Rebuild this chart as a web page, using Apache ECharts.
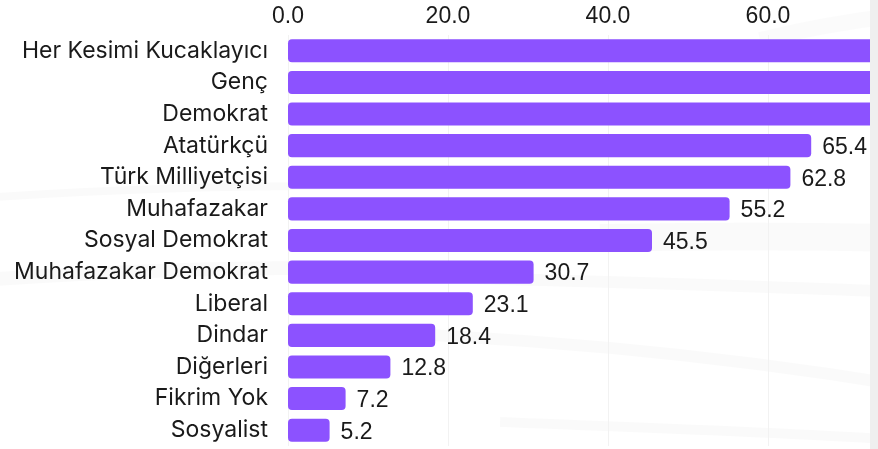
<!DOCTYPE html>
<html>
<head>
<meta charset="utf-8">
<script src="https://cdn.jsdelivr.net/npm/echarts@6/dist/echarts.min.js"></script>
<style>
  html, body { margin: 0; padding: 0; background: #efefef; }
  #wrap { width: 870px; height: 449px; overflow: hidden; background: #ffffff; }
  #chart { width: 1100px; height: 449px; }
</style>
</head>
<body>
<div id="wrap"><div id="chart"></div></div>
<script>
// kategoriler (yukaridan asagiya)
var categories = ['Her Kesimi Kucaklayıcı', 'Genç', 'Demokrat', 'Atatürkçü', 'Türk Milliyetçisi',
	'Muhafazakar', 'Sosyal Demokrat', 'Muhafazakar Demokrat', 'Liberal', 'Dindar',
	'Diğerleri', 'Fikrim Yok', 'Sosyalist'];
// ilk uc deger gorunmuyor, tahmini
var values = [84.6, 78.9, 74.3, 65.4, 62.8, 55.2, 45.5, 30.7, 23.1, 18.4, 12.8, 7.2, 5.2];
var xTicks = [0, 20, 40, 60, 80, 100];

var BAR_COLOR = '#8c52ff';
var LABEL_FONT = 'Inter, "Open Sans", sans-serif';
var NUM_FONT = '"Liberation Sans", Arial, sans-serif';

// arka plandaki soluk kavisli seritler
function band(x1, y1, cx1, cy1, cx2, cy2, x2, y2, w, a) {
	return {
		type: 'bezierCurve', silent: true, z: -10,
		shape: { x1: x1, y1: y1, cpx1: cx1, cpy1: cy1, cpx2: cx2, cpy2: cy2, x2: x2, y2: y2 },
		style: {
			stroke: 'rgba(0,0,0,' + a + ')', lineWidth: w, fill: null, lineCap: 'butt',
			shadowBlur: 8, shadowColor: 'rgba(0,0,0,' + a + ')'
		}
	};
}

var myChart = echarts.init(document.getElementById('chart'));
myChart.setOption({
	animation: false,
	graphic: [
		band(-20, 198, 100, 190, 200, 186, 320, 186, 8, 0.02),
		band(-20, 280, 100, 272, 200, 268, 300, 268, 14, 0.018),
		band(600, 238, 700, 236, 800, 236, 900, 238, 28, 0.018),
		band(470, 278, 600, 282, 760, 286, 900, 292, 12, 0.018),
		band(300, 330, 500, 335, 700, 352, 900, 385, 12, 0.02),
		band(500, 422, 650, 428, 780, 432, 900, 440, 10, 0.018),
		band(760, 40, 800, 30, 840, 22, 900, 15, 16, 0.015)
	],
	grid: { left: 288, width: 800, top: 35, bottom: 3, outerBoundsMode: 'none' },
	xAxis: {
		type: 'value',
		position: 'top',
		min: xTicks[0],
		max: xTicks[xTicks.length - 1],
		interval: xTicks[1] - xTicks[0],
		axisLine: { show: false },
		axisTick: { show: false },
		splitLine: { show: true, lineStyle: { color: '#f2f2f2', width: 1 } },
		axisLabel: {
			margin: 7,
			color: '#1a1a1a',
			fontSize: 23,
			fontFamily: NUM_FONT,
			formatter: function (v) { return v.toFixed(1); }
		}
	},
	yAxis: {
		type: 'category',
		inverse: true,
		data: categories,
		axisLine: { show: false },
		axisTick: { show: false },
		axisLabel: {
			margin: 20,
			color: '#1a1a1a',
			fontSize: 23,
			fontFamily: LABEL_FONT
		}
	},
	series: [{
		type: 'bar',
		data: values,
		barCategoryGap: '27%',
		itemStyle: { color: BAR_COLOR, borderRadius: 4 },
		label: {
			show: true,
			position: 'right',
			distance: 11,
			offset: [0, 2],
			color: '#1a1a1a',
			fontSize: 23,
			fontFamily: NUM_FONT,
			formatter: function (p) { return p.value.toFixed(1); }
		}
	}]
});
</script>
</body>
</html>
